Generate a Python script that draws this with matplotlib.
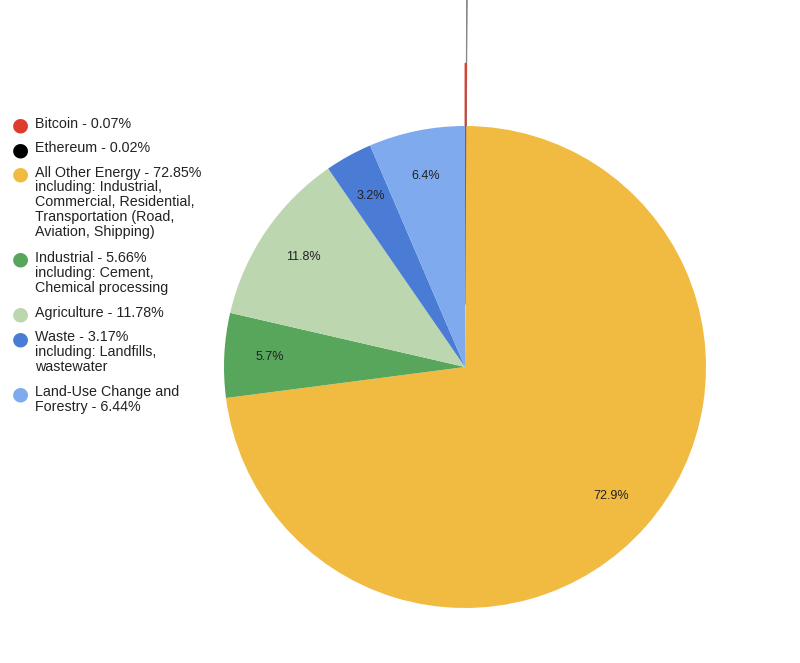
import matplotlib.pyplot as plt

plt.rcParams['font.family'] = ['Liberation Sans', 'DejaVu Sans']

# data
labels = ['Bitcoin - 0.07%',
          'Ethereum - 0.02%',
          'All Other Energy - 72.85%\nincluding: Industrial,\nCommercial, Residential,\nTransportation (Road,\nAviation, Shipping)',
          'Industrial - 5.66%\nincluding: Cement,\nChemical processing',
          'Agriculture - 11.78%',
          'Waste - 3.17%\nincluding: Landfills,\nwastewater',
          'Land-Use Change and\nForestry - 6.44%']
values = [0.07, 0.02, 72.85, 5.66, 11.78, 3.17, 6.44]
colors = ['#DE3B2C', '#000000', '#F1BB42', '#58A55C', '#BCD7AF', '#4A7CD6', '#7FAAEE']
explode = [0.26, 0.55, 0, 0, 0, 0, 0]

fig = plt.figure(figsize=(8, 6.63), dpi=100)
ax = fig.add_axes([(465 - 241) / 800, (663 - 367 - 241) / 663, 482 / 800, 482 / 663])


def fmt(p):
    return '%.1f%%' % p if p > 1 else ''


wedges, texts, autotexts = ax.pie(values, colors=colors, startangle=90, counterclock=False,
                                  explode=explode, autopct=fmt, pctdistance=0.81,
                                  wedgeprops=dict(linewidth=0),
                                  textprops=dict(fontsize=9, color='#222222'))
# tiny slices need an outline to show up at all
wedges[0].set_edgecolor(colors[0])
wedges[0].set_linewidth(0.8)
wedges[1].set_edgecolor('#888888')
wedges[1].set_linewidth(0.8)
wedges[1].set_zorder(0.5)
ax.set_xlim(-1, 1)
ax.set_ylim(-1, 1)
ax.set_aspect('equal')
ax.axis('off')
for w in wedges:
    w.set_clip_on(False)

# legend, drawn by hand so markers line up with the first line of each entry
y = 125
for lab, c in zip(labels, colors):
    fig.text(20 / 800, 1 - y / 663, '\u25CF', color=c, fontsize=14, ha='center', va='center',
             family='DejaVu Sans')
    fig.text(35 / 800, 1 - (y - 8.3) / 663, lab, fontsize=10.3, va='top', ha='left',
             linespacing=1.07, color='#222222')
    y += 15.2 * lab.count('\n') + 24.5

fig.savefig('out.png', dpi=100)
